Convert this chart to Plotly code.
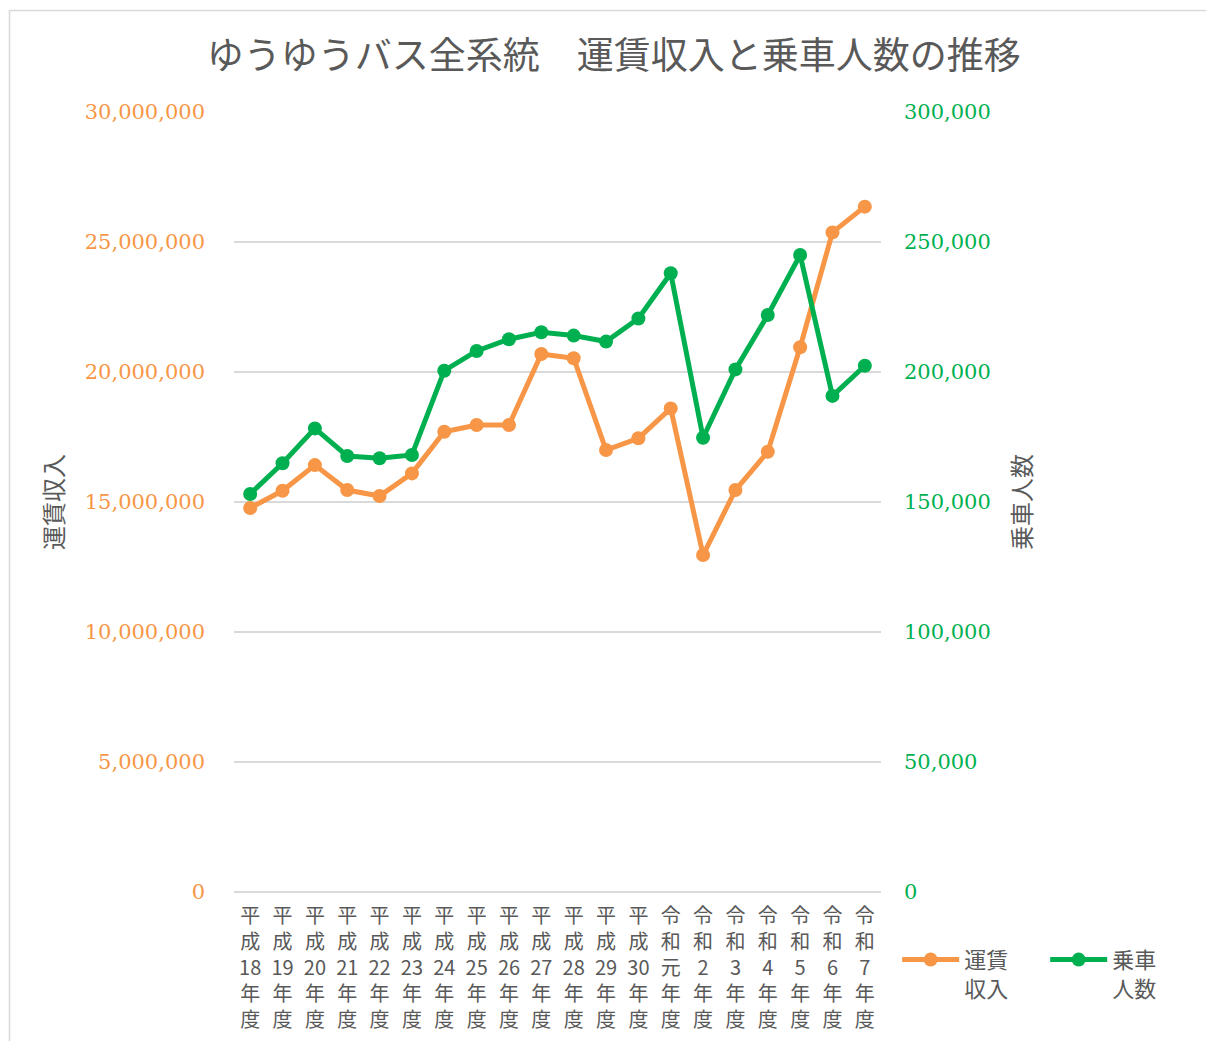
import plotly.graph_objects as go

categories = ["平成18年度", "平成19年度", "平成20年度", "平成21年度", "平成22年度", "平成23年度",
              "平成24年度", "平成25年度", "平成26年度", "平成27年度", "平成28年度", "平成29年度",
              "平成30年度", "令和元年度", "令和 2 年度", "令和 3 年度", "令和 4 年度", "令和 5 年度",
              "令和 6 年度", "令和 7 年度"]
tick_labels = ["平<br>成<br>18<br>年<br>度", "平<br>成<br>19<br>年<br>度", "平<br>成<br>20<br>年<br>度",
               "平<br>成<br>21<br>年<br>度", "平<br>成<br>22<br>年<br>度", "平<br>成<br>23<br>年<br>度",
               "平<br>成<br>24<br>年<br>度", "平<br>成<br>25<br>年<br>度", "平<br>成<br>26<br>年<br>度",
               "平<br>成<br>27<br>年<br>度", "平<br>成<br>28<br>年<br>度", "平<br>成<br>29<br>年<br>度",
               "平<br>成<br>30<br>年<br>度", "令<br>和<br>元<br>年<br>度", "令<br>和<br>2<br>年<br>度",
               "令<br>和<br>3<br>年<br>度", "令<br>和<br>4<br>年<br>度", "令<br>和<br>5<br>年<br>度",
               "令<br>和<br>6<br>年<br>度", "令<br>和<br>7<br>年<br>度"]
revenue = [14770000, 15430000, 16420000, 15460000, 15230000, 16100000, 17700000, 17960000,
           17960000, 20690000, 20530000, 17000000, 17450000, 18600000, 12960000, 15460000,
           16930000, 20950000, 25370000, 26360000]
passengers = [153100, 164900, 178300, 167700, 166800, 168100, 200500, 208100, 212600, 215300,
              214000, 211700, 220600, 238000, 174700, 201000, 221900, 245000, 190800, 202400]
left_ticks = [0, 5000000, 10000000, 15000000, 20000000, 25000000, 30000000]
right_ticks = [0, 50000, 100000, 150000, 200000, 250000, 300000]

ORANGE = "#F79646"
GREEN = "#00B050"
GRAY = "#595959"
CJK = "Noto Sans CJK JP"
NUM = "DejaVu Serif"

fig = go.Figure()
fig.add_trace(go.Scatter(x=categories, y=revenue, name="運賃<br>収入", mode="lines+markers",
                         line=dict(color=ORANGE, width=5), marker=dict(color=ORANGE, size=14),
                         yaxis="y"))
fig.add_trace(go.Scatter(x=categories, y=passengers, name="乗車<br>人数", mode="lines+markers",
                         line=dict(color=GREEN, width=5), marker=dict(color=GREEN, size=14),
                         yaxis="y2"))

fig.update_layout(
    width=1206, height=1041,
    margin=dict(l=234, r=325, t=112, b=149, autoexpand=False),
    paper_bgcolor="white", plot_bgcolor="white",
    title=dict(text="ゆうゆうバス全系統　運賃収入と乗車人数の推移", x=0.509, xanchor="center",
               y=0.946, yanchor="middle", font=dict(family=CJK, size=37, color=GRAY)),
    xaxis=dict(type="category", tickmode="array", tickvals=categories, ticktext=tick_labels,
               range=[-0.5, 19.5], tickangle=0, tickfont=dict(family=CJK, size=20, color=GRAY),
               ticklabelstandoff=10, showgrid=False, showline=False, ticks="", automargin=False),
    yaxis=dict(range=[0, 30000000], tickvals=left_ticks, tickformat=",d",
               tickfont=dict(family=NUM, size=21, color=ORANGE), ticklabelstandoff=28,
               showgrid=True, gridcolor="#D9D9D9", gridwidth=2, zeroline=True,
               zerolinecolor="#D9D9D9", zerolinewidth=2, showline=False, automargin=False,
               title=dict(text="運賃収入", font=dict(family=CJK, size=24, color=GRAY), standoff=14)),
    yaxis2=dict(range=[0, 300000], tickvals=right_ticks, tickformat=",d", overlaying="y",
                side="right", tickfont=dict(family=NUM, size=21, color=GREEN),
                ticklabelstandoff=22, showgrid=False, zeroline=False, showline=False,
                automargin=False,
                title=dict(text="乗車人数", font=dict(family=CJK, size=24, color=GRAY), standoff=24)),
    legend=dict(orientation="h", x=1.025, xanchor="left", y=-0.06, yanchor="top", valign="top",
                font=dict(family=CJK, size=22, color=GRAY), itemwidth=57,
                entrywidth=76, entrywidthmode="pixels",
                traceorder="normal", bgcolor="rgba(0,0,0,0)"),
    shapes=[dict(type="rect", xref="paper", yref="paper", x0=(9.5 - 234) / 647, x1=(1215 - 234) / 647,
                 y0=(892 - 1060) / 780, y1=(892 - 10.5) / 780, line=dict(color="#D9D9D9", width=1.5),
                 fillcolor="rgba(0,0,0,0)", layer="below")],
)

fig.write_html("out.html", config={"displayModeBar": False},
               post_script="document.body.style.margin='0';")
